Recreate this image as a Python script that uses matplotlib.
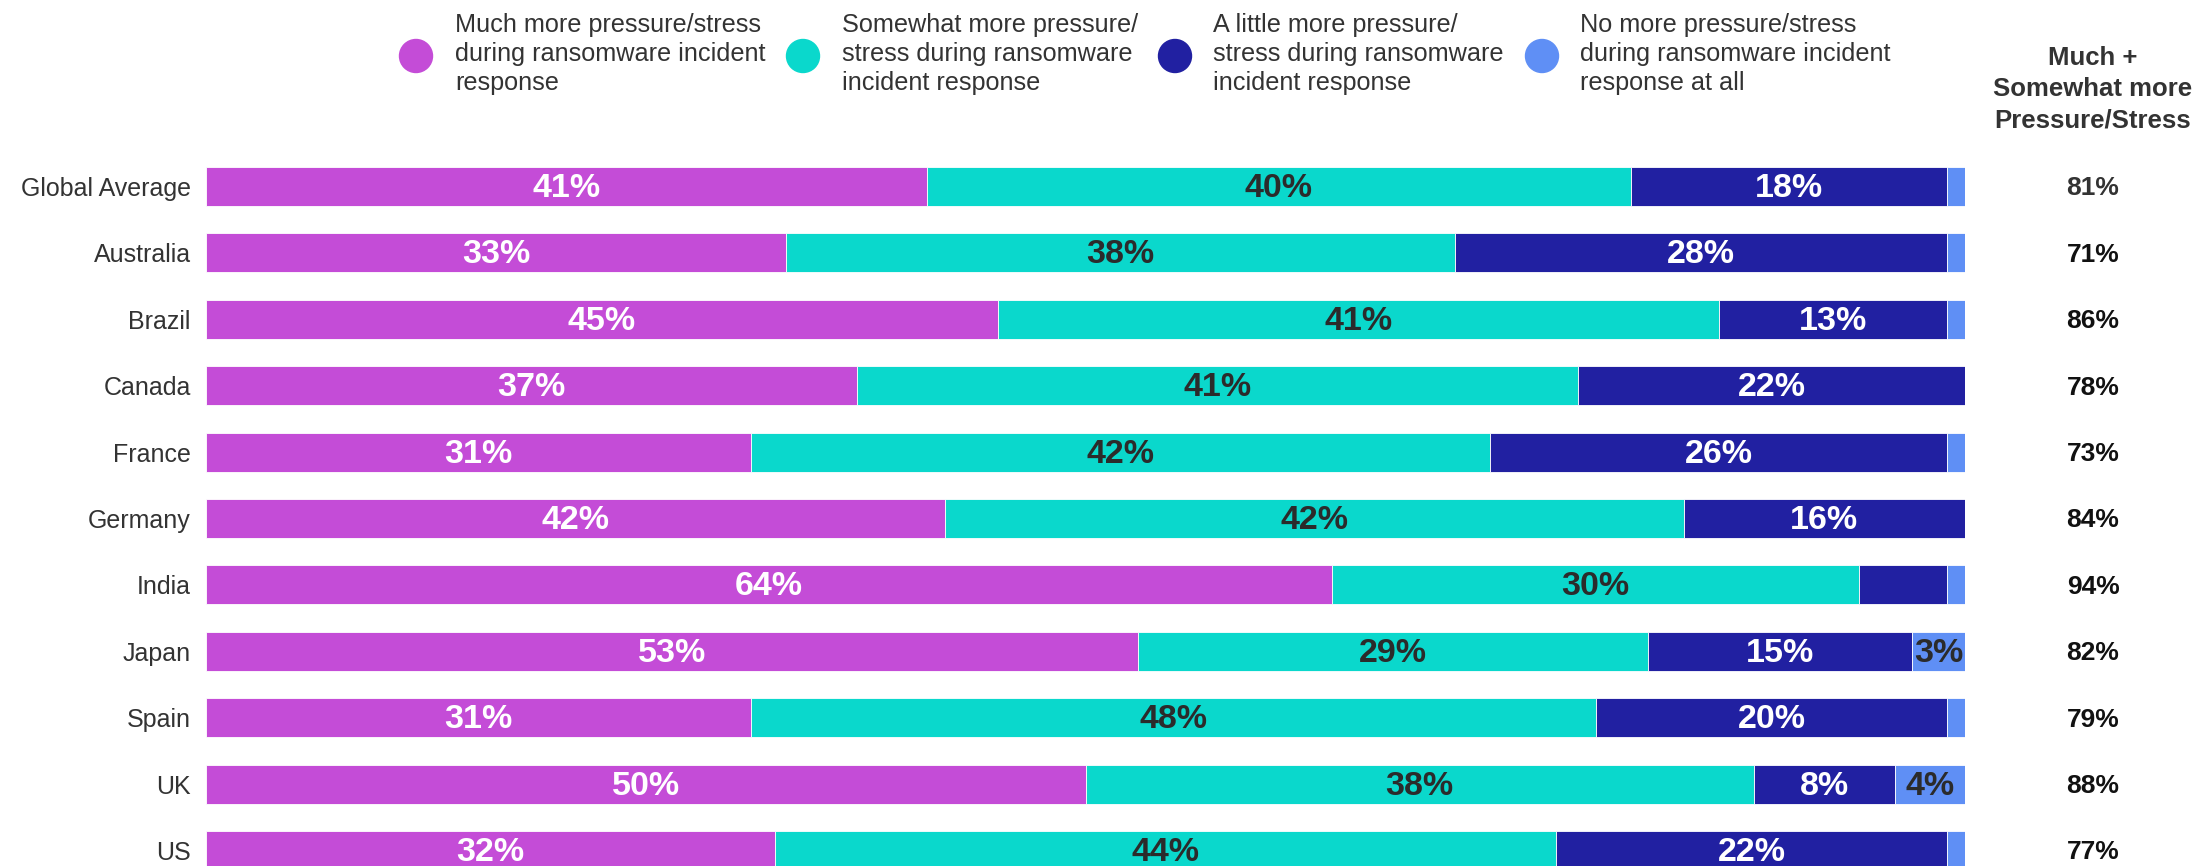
import numpy as np
import matplotlib
matplotlib.use("Agg")
import matplotlib.pyplot as plt
from matplotlib.patches import Ellipse

plt.rcParams['font.family'] = ['Liberation Sans', 'DejaVu Sans']

# data (percent)
countries = ['Global Average', 'Australia', 'Brazil', 'Canada', 'France', 'Germany',
             'India', 'Japan', 'Spain', 'UK', 'US']
much = [41, 33, 45, 37, 31, 42, 64, 53, 31, 50, 32]
somewhat = [40, 38, 41, 41, 42, 42, 30, 29, 48, 38, 44]
little = [18, 28, 13, 22, 26, 16, 5, 15, 20, 8, 22]
no_more = [1, 1, 1, 0, 1, 0, 1, 3, 1, 4, 1]
# India's small dark segment carries no label in the original
little_labelled = [True, True, True, True, True, True, False, True, True, True, True]
much_plus_somewhat = [81, 71, 86, 78, 73, 84, 94, 82, 79, 88, 77]

legend_labels = ['Much more pressure/stress\nduring ransomware incident\nresponse',
                 'Somewhat more pressure/\nstress during ransomware\nincident response',
                 'A little more pressure/\nstress during ransomware\nincident response',
                 'No more pressure/stress\nduring ransomware incident\nresponse at all']
header = 'Much +\nSomewhat more\nPressure/Stress'

colors = ['#C44CD7', '#0AD8CC', '#2120A1', '#5F8FF5']
text_colors = ['white', '#2b2b2b', 'white', '#2b2b2b']

W, H = 2197, 866
fig = plt.figure(figsize=(W / 100, H / 100), dpi=100)

# pixel layout
x0, x1 = 206, 1965
row0, row_step, bar_px = 186.5, 66.4, 39

ax = fig.add_axes([x0 / W, 0, (x1 - x0) / W, 1])
n = len(countries)
y = np.arange(n)
ax.set_ylim((H - row0) / row_step, -row0 / row_step)
ax.set_xlim(0, 100)

series = [np.array(much, float), np.array(somewhat, float),
          np.array(little, float), np.array(no_more, float)]
total = sum(series)
left = np.zeros(n)
for k, vals in enumerate(series):
    w = vals / total * 100
    ax.barh(y, w, left=left, height=bar_px / row_step, color=colors[k],
            edgecolor='white', linewidth=0.6)
    for i in range(n):
        if vals[i] < 3:
            continue
        if k == 2 and not little_labelled[i]:
            continue
        ax.text(left[i] + w[i] / 2, y[i] + 0.03, f'{int(vals[i])}%', ha='center', va='center',
                fontsize=24.5, fontweight='bold', color=text_colors[k])
    left += w

ax.set_yticks(y)
ax.set_yticklabels(countries, fontsize=18, color='#333333')
ax.tick_params(axis='y', length=0, pad=11)
ax.set_xticks([])
for s in ax.spines.values():
    s.set_visible(False)

# right-hand totals column
col_x = (2093 - x0) / (x1 - x0) * 100
for i in range(n):
    ax.text(col_x, y[i] + 0.03, f'{much_plus_somewhat[i]}%', ha='center', va='center',
            fontsize=19, fontweight='bold', color='#333333' if i == 0 else '#111111',
            clip_on=False)
fig.text(2093 / W, 1 - 89 / H, header, ha='center', va='center', fontsize=18.5,
         fontweight='bold', color='#333333', linespacing=1.38)

# legend
circle_x = [416, 803, 1175, 1542]
text_x = [455, 842, 1213, 1580]
for k in range(4):
    fig.patches.append(Ellipse((circle_x[k] / W, 1 - 56 / H), 33 / W, 33 / H,
                               transform=fig.transFigure, color=colors[k]))
    fig.text(text_x[k] / W, 1 - 54 / H, legend_labels[k], ha='left', va='center',
             fontsize=18.2, color='#333333', linespacing=1.25)

fig.savefig('out.png', dpi=100)
